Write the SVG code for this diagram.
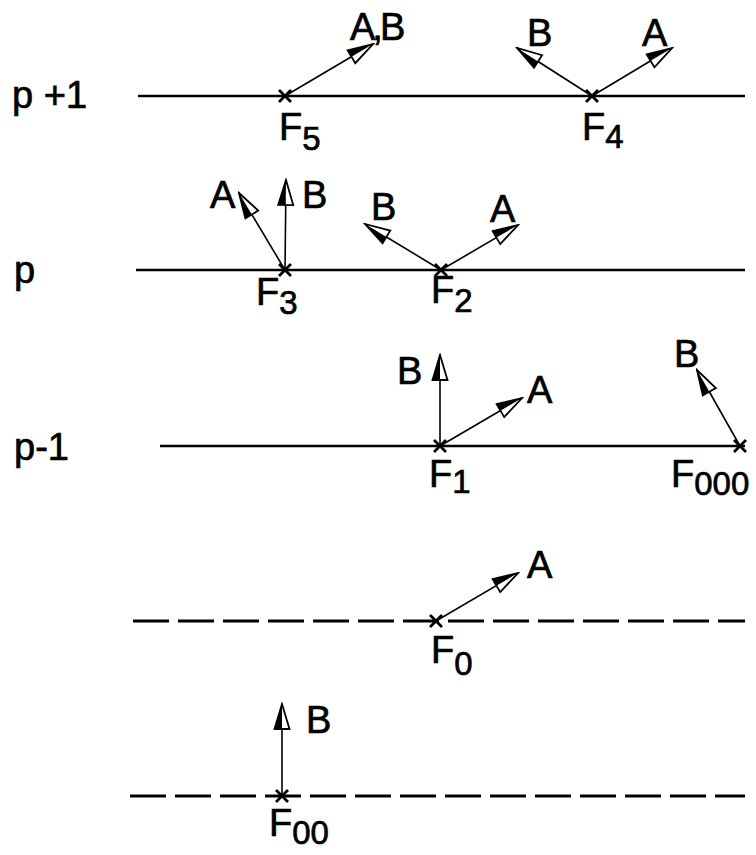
<svg xmlns="http://www.w3.org/2000/svg" width="756" height="855" viewBox="0 0 756 855">
<style>
.ln{stroke:#000;stroke-width:2.5;fill:none}
.dash{stroke:#000;stroke-width:3;fill:none;stroke-dasharray:36 9}
.vec{stroke:#000;stroke-width:1.6;fill:none;marker-end:url(#ah)}
.x{stroke:#000;stroke-width:2.8;fill:none}
text{font-family:"Liberation Sans",Arial,sans-serif;font-size:38px;fill:#000;stroke:#000;stroke-width:0.7}
.sub{font-size:33px}
</style>
<defs>
<marker id="ah" markerUnits="userSpaceOnUse" viewBox="-28 -10 30 20" markerWidth="30" markerHeight="20" refX="0" refY="0" orient="auto">
<path d="M0,0 L-25,-7.5 L-25,7.5 Z" fill="#fff" stroke="#000" stroke-width="1.8" stroke-linejoin="miter"/>
<path d="M0,0 L-25,-7.5 L-25,0 Z" fill="#000"/>
</marker>
<path id="cr" d="M-6,-6 L6,6 M-6,6 L6,-6"/>
</defs>

<g id="levels">
<text x="12" y="108">p +1</text>
<text x="14" y="283">p</text>
<text x="14" y="460">p-1</text>
</g>

<g id="connectors">
<line class="ln" x1="138" y1="96" x2="745" y2="96"/>
<line class="ln" x1="136" y1="270" x2="745" y2="270"/>
<line class="ln" x1="160" y1="446" x2="745" y2="446"/>
<line class="dash" x1="133" y1="621" x2="745" y2="621"/>
<line class="dash" x1="130" y1="796" x2="745" y2="796"/>

<line class="vec" x1="285" y1="96" x2="373" y2="44"/>
<line class="vec" x1="592" y1="96" x2="517" y2="48"/>
<line class="vec" x1="592" y1="96" x2="672" y2="48"/>
<line class="vec" x1="285" y1="270" x2="239" y2="193"/>
<line class="vec" x1="285" y1="270" x2="286" y2="180"/>
<line class="vec" x1="441" y1="270" x2="365" y2="224"/>
<line class="vec" x1="441" y1="270" x2="518" y2="225"/>
<line class="vec" x1="440" y1="446" x2="440" y2="355"/>
<line class="vec" x1="440" y1="446" x2="522" y2="398"/>
<line class="vec" x1="740" y1="446" x2="697" y2="370"/>
<line class="vec" x1="436" y1="621" x2="518" y2="573"/>
<line class="vec" x1="282" y1="796" x2="282" y2="704"/>
</g>

<g id="F5">
<use href="#cr" class="x" x="285" y="96"/>
<text x="350" y="40" letter-spacing="-3">A,B</text>
<text x="279" y="140">F<tspan class="sub" dy="10">5</tspan></text>
</g>
<g id="F4">
<use href="#cr" class="x" x="592" y="96"/>
<text x="527" y="46">B</text>
<text x="642" y="46">A</text>
<text x="582" y="140">F<tspan class="sub" dy="8">4</tspan></text>
</g>
<g id="F3">
<use href="#cr" class="x" x="285" y="270"/>
<text x="210" y="208">A</text>
<text x="302" y="208">B</text>
<text x="256" y="305">F<tspan class="sub" dy="9">3</tspan></text>
</g>
<g id="F2">
<use href="#cr" class="x" x="441" y="270"/>
<text x="371" y="220">B</text>
<text x="490" y="222">A</text>
<text x="431" y="303">F<tspan class="sub" dy="9">2</tspan></text>
</g>
<g id="F1">
<use href="#cr" class="x" x="440" y="446"/>
<text x="397" y="384">B</text>
<text x="527" y="403">A</text>
<text x="429" y="487">F<tspan class="sub" dy="6">1</tspan></text>
</g>
<g id="F000">
<use href="#cr" class="x" x="740" y="446"/>
<text x="674" y="367">B</text>
<text x="671" y="487">F<tspan class="sub" dy="8">000</tspan></text>
</g>
<g id="F0">
<use href="#cr" class="x" x="436" y="621"/>
<text x="527" y="578">A</text>
<text x="431" y="663">F<tspan class="sub" dy="12">0</tspan></text>
</g>
<g id="F00">
<use href="#cr" class="x" x="282" y="796"/>
<text x="306" y="733">B</text>
<text x="269" y="836">F<tspan class="sub" dy="8">00</tspan></text>
</g>
</svg>
